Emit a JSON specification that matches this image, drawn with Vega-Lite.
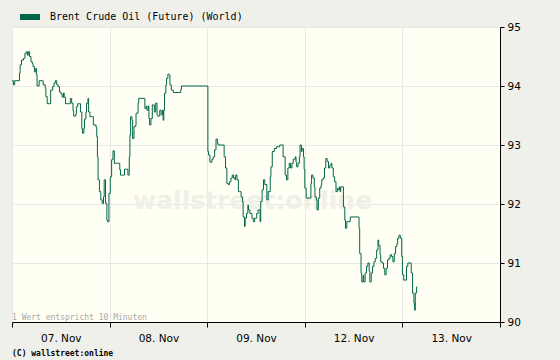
{
  "$schema": "https://vega.github.io/schema/vega-lite/v6.json",
  "width": 488,
  "height": 295,
  "autosize": {"type": "none"},
  "padding": {"left": 12, "top": 27, "right": 60, "bottom": 38},
  "background": "#f0f0ea",
  "config": {
    "view": {"fill": "#fffff3", "stroke": "#d9d9d9"},
    "font": "DejaVu Sans"
  },
  "data": {"values": [
    {"t":0,"p":94.09},{"t":2,"p":94.02},{"t":4,"p":94.09},{"t":9,"p":94.09},{"t":11,"p":94.22},{"t":12,"p":94.36},{"t":14,"p":94.44},{"t":17,"p":94.47},{"t":19,"p":94.55},{"t":21,"p":94.58},{"t":23,"p":94.52},{"t":24,"p":94.58},{"t":26,"p":94.50},{"t":28,"p":94.41},{"t":30,"p":94.38},{"t":31,"p":94.33},{"t":33,"p":94.24},{"t":35,"p":94.30},{"t":36,"p":94.19},{"t":37,"p":94.00},{"t":40,"p":94.09},{"t":45,"p":94.09},{"t":46,"p":94.02},{"t":49,"p":93.96},{"t":50,"p":93.82},{"t":52,"p":93.70},{"t":55,"p":93.70},{"t":57,"p":93.93},{"t":60,"p":93.99},{"t":62,"p":94.05},{"t":64,"p":94.09},{"t":66,"p":94.02},{"t":68,"p":93.99},{"t":70,"p":93.90},{"t":72,"p":93.87},{"t":74,"p":93.81},{"t":76,"p":93.88},{"t":77,"p":93.81},{"t":79,"p":93.70},{"t":83,"p":93.70},{"t":86,"p":93.79},{"t":88,"p":93.71},{"t":90,"p":93.58},{"t":91,"p":93.49},{"t":94,"p":93.52},{"t":95,"p":93.65},{"t":97,"p":93.70},{"t":100,"p":93.70},{"t":101,"p":93.56},{"t":103,"p":93.28},{"t":104,"p":93.20},{"t":106,"p":93.28},{"t":107,"p":93.44},{"t":109,"p":93.55},{"t":110,"p":93.71},{"t":112,"p":93.79},{"t":113,"p":93.56},{"t":115,"p":93.48},{"t":119,"p":93.48},{"t":120,"p":93.34},{"t":124,"p":93.30},{"t":125,"p":93.14},{"t":126,"p":92.80},{"t":127,"p":92.41},{"t":129,"p":92.21},{"t":131,"p":92.07},{"t":133,"p":92.01},{"t":135,"p":92.12},{"t":136,"p":92.41},{"t":138,"p":92.01},{"t":140,"p":91.73},{"t":141,"p":91.70},{"t":143,"p":92.18},{"t":145,"p":92.46},{"t":147,"p":92.75},{"t":149,"p":92.90},{"t":151,"p":92.69},{"t":156,"p":92.69},{"t":159,"p":92.58},{"t":160,"p":92.49},{"t":164,"p":92.49},{"t":166,"p":92.59},{"t":169,"p":92.59},{"t":171,"p":92.49},{"t":173,"p":92.80},{"t":174,"p":93.17},{"t":175,"p":93.48},{"t":177,"p":93.42},{"t":178,"p":93.11},{"t":180,"p":93.31},{"t":182,"p":93.33},{"t":183,"p":93.54},{"t":186,"p":93.71},{"t":187,"p":93.79},{"t":195,"p":93.79},{"t":196,"p":93.62},{"t":198,"p":93.66},{"t":199,"p":93.59},{"t":201,"p":93.66},{"t":202,"p":93.45},{"t":203,"p":93.34},{"t":205,"p":93.45},{"t":207,"p":93.68},{"t":209,"p":93.68},{"t":210,"p":93.56},{"t":212,"p":93.71},{"t":214,"p":93.51},{"t":215,"p":93.49},{"t":218,"p":93.59},{"t":220,"p":93.51},{"t":222,"p":93.59},{"t":223,"p":93.42},{"t":224,"p":93.59},{"t":225,"p":93.88},{"t":227,"p":94.02},{"t":228,"p":94.13},{"t":230,"p":94.20},{"t":232,"p":94.19},{"t":233,"p":94.02},{"t":235,"p":93.93},{"t":238,"p":93.89},{"t":246,"p":93.89},{"t":249,"p":93.94},{"t":250,"p":94.00},{"t":288,"p":94.00},{"t":289,"p":92.89},{"t":290,"p":92.83},{"t":292,"p":92.71},{"t":295,"p":92.76},{"t":297,"p":92.80},{"t":299,"p":92.92},{"t":301,"p":93.10},{"t":303,"p":93.03},{"t":304,"p":93.00},{"t":312,"p":93.00},{"t":313,"p":92.80},{"t":315,"p":92.61},{"t":317,"p":92.35},{"t":319,"p":92.33},{"t":321,"p":92.38},{"t":323,"p":92.44},{"t":325,"p":92.49},{"t":327,"p":92.44},{"t":329,"p":92.41},{"t":330,"p":92.49},{"t":332,"p":92.41},{"t":334,"p":92.21},{"t":336,"p":92.21},{"t":338,"p":92.12},{"t":340,"p":92.04},{"t":341,"p":91.78},{"t":343,"p":91.62},{"t":344,"p":91.76},{"t":346,"p":91.84},{"t":348,"p":91.98},{"t":349,"p":91.90},{"t":351,"p":91.84},{"t":354,"p":91.76},{"t":356,"p":91.70},{"t":358,"p":91.76},{"t":361,"p":91.84},{"t":363,"p":91.90},{"t":366,"p":91.70},{"t":367,"p":92.04},{"t":369,"p":92.24},{"t":371,"p":92.41},{"t":373,"p":92.33},{"t":376,"p":92.07},{"t":378,"p":92.21},{"t":381,"p":92.46},{"t":382,"p":92.63},{"t":384,"p":92.89},{"t":387,"p":92.94},{"t":390,"p":92.97},{"t":395,"p":93.00},{"t":398,"p":93.00},{"t":400,"p":92.80},{"t":403,"p":92.49},{"t":405,"p":92.41},{"t":407,"p":92.61},{"t":409,"p":92.69},{"t":411,"p":92.61},{"t":413,"p":92.69},{"t":415,"p":92.76},{"t":418,"p":92.80},{"t":419,"p":92.71},{"t":420,"p":92.63},{"t":422,"p":92.69},{"t":424,"p":92.80},{"t":425,"p":93.00},{"t":427,"p":92.89},{"t":428,"p":92.94},{"t":430,"p":92.80},{"t":431,"p":92.59},{"t":432,"p":92.27},{"t":434,"p":92.10},{"t":440,"p":92.10},{"t":441,"p":92.35},{"t":442,"p":92.49},{"t":444,"p":92.44},{"t":446,"p":92.29},{"t":447,"p":92.12},{"t":449,"p":92.07},{"t":450,"p":91.90},{"t":452,"p":92.10},{"t":454,"p":92.27},{"t":456,"p":92.32},{"t":457,"p":92.41},{"t":459,"p":92.44},{"t":461,"p":92.61},{"t":463,"p":92.77},{"t":465,"p":92.72},{"t":467,"p":92.61},{"t":469,"p":92.66},{"t":471,"p":92.69},{"t":472,"p":92.61},{"t":474,"p":92.46},{"t":476,"p":92.38},{"t":478,"p":92.21},{"t":480,"p":92.27},{"t":481,"p":92.24},{"t":483,"p":92.29},{"t":484,"p":92.21},{"t":485,"p":92.29},{"t":488,"p":92.29},{"t":489,"p":91.95},{"t":491,"p":91.73},{"t":492,"p":91.59},{"t":494,"p":91.70},{"t":496,"p":91.70},{"t":499,"p":91.78},{"t":511,"p":91.78},{"t":512,"p":91.59},{"t":513,"p":91.16},{"t":515,"p":90.83},{"t":516,"p":90.68},{"t":518,"p":90.79},{"t":519,"p":90.68},{"t":521,"p":90.83},{"t":523,"p":90.94},{"t":525,"p":91.00},{"t":527,"p":90.86},{"t":528,"p":90.68},{"t":530,"p":90.83},{"t":532,"p":90.94},{"t":534,"p":91.02},{"t":536,"p":91.08},{"t":538,"p":91.22},{"t":540,"p":91.39},{"t":541,"p":91.30},{"t":543,"p":91.14},{"t":544,"p":91.02},{"t":546,"p":91.00},{"t":548,"p":90.91},{"t":550,"p":90.80},{"t":552,"p":90.91},{"t":554,"p":91.05},{"t":556,"p":91.08},{"t":558,"p":91.14},{"t":560,"p":91.11},{"t":562,"p":91.02},{"t":564,"p":91.16},{"t":566,"p":91.28},{"t":568,"p":91.33},{"t":569,"p":91.42},{"t":571,"p":91.47},{"t":573,"p":91.42},{"t":575,"p":91.11},{"t":576,"p":90.80},{"t":578,"p":90.71},{"t":580,"p":90.71},{"t":582,"p":90.94},{"t":584,"p":91.00},{"t":587,"p":91.00},{"t":589,"p":90.83},{"t":591,"p":90.49},{"t":593,"p":90.32},{"t":594,"p":90.20},{"t":595,"p":90.49},{"t":597,"p":90.60}
  ]},
  "layer": [
    {
      "data": {"values": [{"label": "wallstreet:online"}]},
      "mark": {"type": "text", "fontSize": 25, "fontWeight": "bold", "color": "#f0f0e6", "align": "center", "baseline": "middle"},
      "encoding": {
        "x": {"datum": 355, "type": "quantitative", "scale": {"domain": [0, 720], "nice": false}},
        "y": {"datum": 92.05, "type": "quantitative"},
        "text": {"field": "label"}
      }
    },
    {
      "mark": {"type": "line", "interpolate": "step-after", "strokeWidth": 1},
      "encoding": {
        "x": {
          "field": "t", "type": "quantitative",
          "scale": {"domain": [0, 720], "nice": false},
          "axis": {
            "title": null,
            "values": [0, 144, 288, 432, 576, 720],
            "labelExpr": "datum.value < 700 ? ['07. Nov','08. Nov','09. Nov','12. Nov','13. Nov'][round(datum.value/144)] : ''",
            "labelOffset": 48.8,
            "labelFlush": false,
            "labelFontSize": 10.5,
            "labelColor": "#000000",
            "labelPadding": 6,
            "grid": true,
            "gridColor": "#e8e8e8",
            "domainColor": "#000000",
            "tickColor": "#000000",
            "tickSize": 5
          }
        },
        "y": {
          "field": "p", "type": "quantitative",
          "scale": {"domain": [90, 95], "nice": false, "zero": false},
          "axis": {
            "title": null,
            "orient": "right",
            "values": [90, 91, 92, 93, 94, 95],
            "format": "d",
            "labelFontSize": 10.5,
            "labelColor": "#000000",
            "labelPadding": 3,
            "grid": true,
            "gridColor": "#e8e8e8",
            "domainColor": "#000000",
            "tickColor": "#000000",
            "tickSize": 4
          }
        },
        "color": {
          "datum": "Brent Crude Oil (Future) (World)",
          "scale": {"range": ["#00664a"]},
          "legend": {
            "title": null,
            "orient": "none",
            "legendX": 8,
            "legendY": -20,
            "symbolType": "M-1,-0.3L1,-0.3L1,0.3L-1,0.3Z",
            "symbolSize": 400,
            "symbolFillColor": "#00664a",
            "symbolStrokeWidth": 0,
            "labelFont": "DejaVu Sans Mono",
            "labelFontSize": 10,
            "labelLimit": 0,
            "labelColor": "#000000",
            "labelOffset": 10
          }
        }
      }
    },
    {
      "data": {"values": [{"label": "1 Wert entspricht 10 Minuten"}]},
      "mark": {"type": "text", "font": "DejaVu Sans Mono", "fontSize": 8, "color": "#a8a8a8", "align": "left", "baseline": "alphabetic", "dx": 0, "dy": -2},
      "encoding": {
        "x": {"datum": 0, "type": "quantitative"},
        "y": {"datum": 90, "type": "quantitative"},
        "text": {"field": "label"}
      }
    },
    {
      "data": {"values": [{"label": "(C) wallstreet:online"}]},
      "mark": {"type": "text", "font": "DejaVu Sans Mono", "fontSize": 8, "fontWeight": "bold", "color": "#000000", "align": "left", "baseline": "middle"},
      "encoding": {
        "x": {"datum": 0, "type": "quantitative"},
        "y": {"datum": 89.45, "type": "quantitative"},
        "text": {"field": "label"}
      }
    }
  ]
}
